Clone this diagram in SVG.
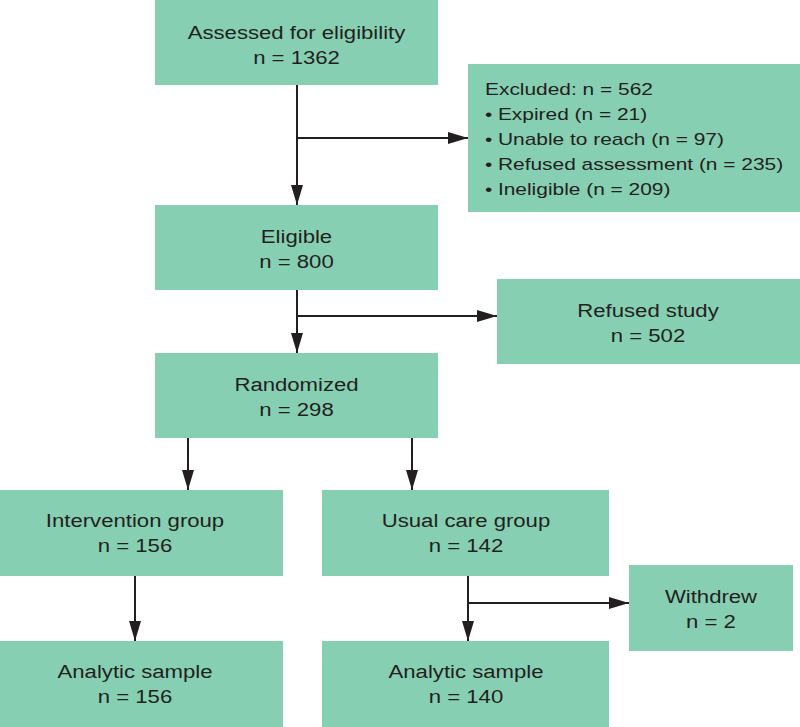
<svg xmlns="http://www.w3.org/2000/svg" width="800" height="727" viewBox="0 0 800 727">
<style>
.box{fill:#86cfb3}
.t{font-family:"Liberation Sans",Arial,sans-serif;font-size:18px;fill:#231f20}
.s{font-size:17px}
.c{text-anchor:middle}
.ln{stroke:#231f20;stroke-width:2;fill:none}
</style>
<defs>
<marker id="ah" viewBox="0 0 20 12" refX="20" refY="6" markerWidth="20" markerHeight="12" markerUnits="userSpaceOnUse" orient="auto">
<path d="M0,0 L20,6 L0,12 Z" fill="#231f20"/>
</marker>
</defs>
<rect width="800" height="727" fill="#ffffff"/>
<g id="connectors">
<line class="ln" x1="297" y1="85" x2="297" y2="205" marker-end="url(#ah)"/>
<line class="ln" x1="297" y1="138" x2="468" y2="138" marker-end="url(#ah)"/>
<line class="ln" x1="297" y1="290" x2="297" y2="353" marker-end="url(#ah)"/>
<line class="ln" x1="297" y1="316" x2="497" y2="316" marker-end="url(#ah)"/>
<line class="ln" x1="188" y1="438" x2="188" y2="490" marker-end="url(#ah)"/>
<line class="ln" x1="412" y1="438" x2="412" y2="490" marker-end="url(#ah)"/>
<line class="ln" x1="135" y1="576" x2="135" y2="641" marker-end="url(#ah)"/>
<line class="ln" x1="468" y1="576" x2="468" y2="641" marker-end="url(#ah)"/>
<line class="ln" x1="468" y1="603" x2="629" y2="603" marker-end="url(#ah)"/>
</g>
<g id="assessed">
<rect class="box" x="155" y="0" width="283" height="85"/>
<text class="t c" transform="translate(296.5,39) scale(1.23,1)">Assessed for eligibility</text>
<text class="t c" transform="translate(296.5,64) scale(1.23,1)">n = 1362</text>
</g>
<g id="excluded">
<rect class="box" x="468" y="64" width="332" height="148"/>
<g class="t s" transform="translate(485,0) scale(1.23,1)">
<text y="95">Excluded: n = 562</text>
<text y="120"><tspan x="0">•</tspan><tspan x="10.5">Expired (n = 21)</tspan></text>
<text y="145"><tspan x="0">•</tspan><tspan x="10.5">Unable to reach (n = 97)</tspan></text>
<text y="170"><tspan x="0">•</tspan><tspan x="10.5">Refused assessment (n = 235)</tspan></text>
<text y="195"><tspan x="0">•</tspan><tspan x="10.5">Ineligible (n = 209)</tspan></text>
</g>
</g>
<g id="eligible">
<rect class="box" x="155" y="205" width="283" height="85"/>
<text class="t c" transform="translate(296.5,243) scale(1.23,1)">Eligible</text>
<text class="t c" transform="translate(296.5,268) scale(1.23,1)">n = 800</text>
</g>
<g id="refused">
<rect class="box" x="497" y="279" width="303" height="85"/>
<text class="t c" transform="translate(648,317) scale(1.23,1)">Refused study</text>
<text class="t c" transform="translate(648,342) scale(1.23,1)">n = 502</text>
</g>
<g id="randomized">
<rect class="box" x="155" y="353" width="283" height="85"/>
<text class="t c" transform="translate(296.5,391) scale(1.23,1)">Randomized</text>
<text class="t c" transform="translate(296.5,416) scale(1.23,1)">n = 298</text>
</g>
<g id="intervention">
<rect class="box" x="0" y="490" width="283" height="86"/>
<text class="t c" transform="translate(135,527) scale(1.23,1)">Intervention group</text>
<text class="t c" transform="translate(135,552) scale(1.23,1)">n = 156</text>
</g>
<g id="usualcare">
<rect class="box" x="322" y="490" width="287" height="86"/>
<text class="t c" transform="translate(466,527) scale(1.23,1)">Usual care group</text>
<text class="t c" transform="translate(466,552) scale(1.23,1)">n = 142</text>
</g>
<g id="withdrew">
<rect class="box" x="629" y="565" width="164" height="86"/>
<text class="t c" transform="translate(711,603) scale(1.23,1)">Withdrew</text>
<text class="t c" transform="translate(711,628) scale(1.23,1)">n = 2</text>
</g>
<g id="analytic1">
<rect class="box" x="0" y="641" width="283" height="86"/>
<text class="t c" transform="translate(135,678) scale(1.23,1)">Analytic sample</text>
<text class="t c" transform="translate(135,703) scale(1.23,1)">n = 156</text>
</g>
<g id="analytic2">
<rect class="box" x="322" y="641" width="287" height="86"/>
<text class="t c" transform="translate(466,678) scale(1.23,1)">Analytic sample</text>
<text class="t c" transform="translate(466,703) scale(1.23,1)">n = 140</text>
</g>
</svg>
